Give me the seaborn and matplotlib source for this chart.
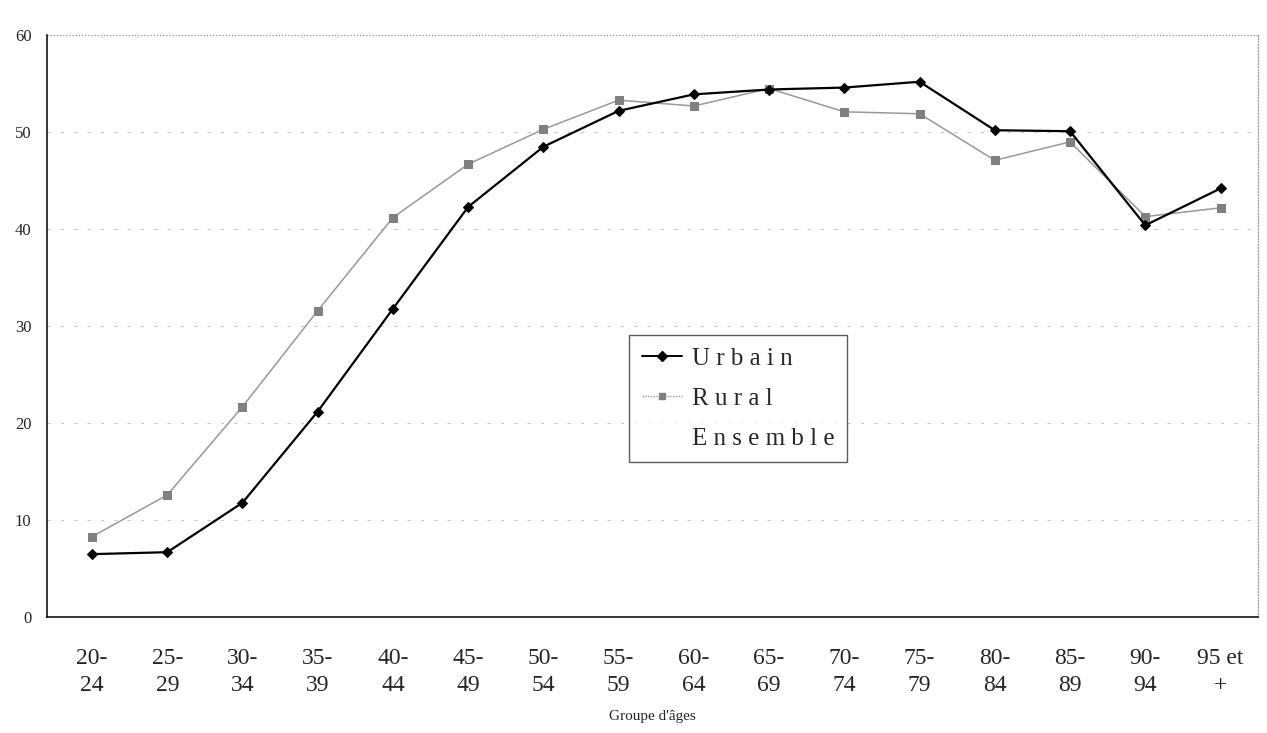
import numpy as np
import pandas as pd
import seaborn as sns
import matplotlib.pyplot as plt
from matplotlib.lines import Line2D

# Groupes d'âges et valeurs
groupes = ['20-\n24', '25-\n29', '30-\n34', '35-\n39', '40-\n44', '45-\n49',
           '50-\n54', '55-\n59', '60-\n64', '65-\n69', '70-\n74', '75-\n79',
           '80-\n84', '85-\n89', '90-\n94', '95 et\n+']
urbain = [6.5, 6.7, 11.8, 21.2, 31.8, 42.3, 48.5, 52.2,
          53.9, 54.4, 54.6, 55.2, 50.2, 50.1, 40.4, 44.2]
rural = [8.3, 12.6, 21.7, 31.6, 41.2, 46.7, 50.3, 53.3,
         52.7, 54.5, 52.1, 51.9, 47.1, 49.0, 41.3, 42.2]
y_ticks = [0, 10, 20, 30, 40, 50, 60]

df = pd.DataFrame({'pos': np.arange(len(groupes)), 'Urbain': urbain, 'Rural': rural})

sns.set_style('white')
plt.rcParams['font.family'] = ['Liberation Serif', 'DejaVu Serif']

fig = plt.figure(figsize=(12.67, 7.33), dpi=100)
ax = fig.add_axes([0.037, 0.158, 0.956, 0.794])

# grille horizontale pointillée, très pâle
for v in y_ticks[1:-1]:
    ax.axhline(v, color='#c8c8c8', lw=0.8, ls=(0, (3, 9)), zorder=0)
ax.axhline(60, color='#8a8a8a', lw=0.9, ls=(0, (1, 1.5)), zorder=0)

sns.lineplot(data=df, x='pos', y='Rural', ax=ax, color='#999999', lw=1.1,
             marker='s', markersize=5.5, markerfacecolor='#808080',
             markeredgecolor='#808080', zorder=2)
sns.lineplot(data=df, x='pos', y='Urbain', ax=ax, color='black', lw=1.6,
             marker='D', markersize=5, markerfacecolor='black',
             markeredgecolor='black', zorder=3)

ax.set_xlim(-0.6, 15.45)
ax.set_ylim(0, 60)
ax.set_yticks(y_ticks)
ax.set_yticklabels([str(v) for v in y_ticks], fontsize=12)
ax.set_xticks(df['pos'])
ax.set_xticklabels(groupes, fontsize=17, linespacing=1.4)
ax.set_xticks(np.arange(-0.5, 15.6, 1), minor=True)
ax.tick_params(axis='x', which='major', length=0, pad=22)
ax.tick_params(axis='x', which='minor', length=6, width=1, direction='out', color='black')
ax.tick_params(axis='y', which='major', length=5, width=1, direction='out', color='black', pad=6)
ax.set_xlabel("Groupe d'âges", fontsize=11, labelpad=10)
ax.set_ylabel('')

ax.spines['left'].set_color('black')
ax.spines['bottom'].set_color('black')
ax.spines['left'].set_linewidth(1.1)
ax.spines['bottom'].set_linewidth(1.1)
ax.spines['top'].set_visible(False)
ax.spines['right'].set_color('#a0a0a0')
ax.spines['right'].set_linestyle((0, (1, 1.5)))
ax.spines['right'].set_linewidth(0.9)

handles = [
    Line2D([], [], color='black', lw=1.4, marker='D', markersize=5),
    Line2D([], [], color='#999999', lw=1.0, ls=(0, (1, 1)), marker='s', markersize=5,
           markerfacecolor='#808080', markeredgecolor='#808080'),
    Line2D([], [], color='white', lw=0),
]
leg = ax.legend(handles, ['U r b a i n', 'R u r a l', 'E n s e m b l e'],
                loc='upper left', bbox_to_anchor=(0.481, 0.485), borderaxespad=0,
                fontsize=18, frameon=True, fancybox=False, handlelength=1.6,
                handletextpad=0.4, borderpad=0.5, labelspacing=0.7)
leg.get_frame().set_edgecolor('#333333')
leg.get_frame().set_linewidth(1.0)

fig.savefig('out.png', dpi=100)
